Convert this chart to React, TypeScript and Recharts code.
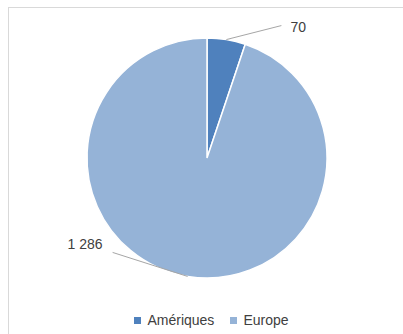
import { PieChart, Pie, Cell, Legend } from 'recharts';

const regions = ['Amériques', 'Europe'];
const amounts = [70, 1286];
const sliceColors = ['#4f81bd', '#95b3d7'];

// offsets of the leader line end and text, per slice, relative to the arc midpoint
const labelOffsets = [
  { dx: 55, dy: -14, tx: 9, ty: 3, anchor: 'start' },
  { dx: -75, dy: -24, tx: -10, ty: -7, anchor: 'end' },
];

const data = regions.map((name, i) => ({ name, value: amounts[i] }));

const fmt = (v: number) => String(v).replace(/\B(?=(\d{3})+(?!\d))/g, ' ');

const RADIAN = Math.PI / 180;

const renderLabel = (props: any) => {
  const { cx, cy, midAngle, outerRadius, index, value } = props;
  const o = labelOffsets[index];
  const x0 = cx + outerRadius * Math.cos(-midAngle * RADIAN);
  const y0 = cy + outerRadius * Math.sin(-midAngle * RADIAN);
  const x1 = x0 + o.dx;
  const y1 = y0 + o.dy;
  return (
    <g key={`lbl-${index}`}>
      <line x1={x0} y1={y0} x2={x1} y2={y1} stroke="#a6a6a6" strokeWidth={1} />
      <text
        x={x1 + o.tx}
        y={y1 + o.ty}
        textAnchor={o.anchor}
        dominantBaseline="middle"
        fill="#404040"
        fontSize={14}
        fontFamily="'Liberation Sans', Arial, sans-serif"
      >
        {fmt(value)}
      </text>
    </g>
  );
};

const renderLegend = (props: any) => {
  const { payload } = props;
  return (
    <div style={{ display: 'flex', justifyContent: 'center', alignItems: 'center' }}>
      {(payload || []).map((entry: any, i: number) => (
        <div key={i} style={{ display: 'flex', alignItems: 'center', marginRight: i < payload.length - 1 ? 16 : 0 }}>
          <span style={{ display: 'inline-block', width: 7, height: 7, background: entry.color, marginRight: 6 }} />
          <span style={{ fontSize: 14, color: '#404040', fontFamily: "'Liberation Sans', Arial, sans-serif" }}>
            {entry.value}
          </span>
        </div>
      ))}
    </div>
  );
};

export default function App() {
  return (
    <div style={{ position: 'absolute', left: 0, top: 0, width: 403, height: 334, background: '#fff', overflow: 'hidden' }}>
      <div
        style={{
          position: 'absolute',
          left: 8,
          top: 7,
          width: 420,
          height: 340,
          borderLeft: '1px solid #d9d9d9',
          borderTop: '1px solid #d9d9d9',
        }}
      />
      <div style={{ position: 'absolute', left: 0, top: 0 }}>
        <PieChart width={403} height={334} margin={{ top: 0, right: 0, bottom: 0, left: 0 }}>
          <Pie
            data={data}
            dataKey="value"
            nameKey="name"
            cx={207}
            cy={158}
            outerRadius={120}
            startAngle={90}
            endAngle={-270}
            stroke="#ffffff"
            strokeWidth={1.5}
            label={renderLabel}
            labelLine={false}
            isAnimationActive={false}
          >
            {data.map((d, i) => (
              <Cell key={d.name} fill={sliceColors[i]} />
            ))}
          </Pie>
          <Legend
            verticalAlign="bottom"
            content={renderLegend}
            wrapperStyle={{ left: 10, width: 403, bottom: 6 }}
          />
        </PieChart>
      </div>
    </div>
  );
}
